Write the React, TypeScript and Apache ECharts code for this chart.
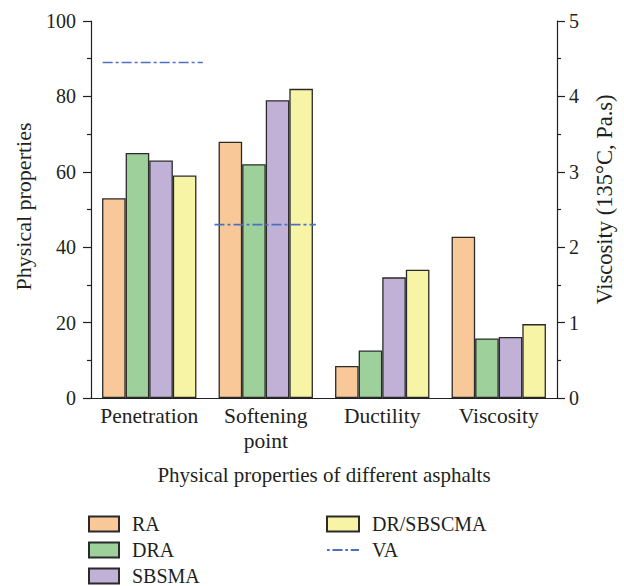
import React, { useEffect, useRef } from 'react';
import * as echarts from 'echarts';

// ---- data ----
const categories = ['Penetration', 'Softening\npoint', 'Ductility', 'Viscosity'];
const asphalts = ['RA', 'DRA', 'SBSMA', 'DR/SBSCMA'];
// physical properties (left axis) for penetration, softening point, ductility
const raValues = [53, 68, 8.5];
const draValues = [65, 62, 12.6];
const sbsmaValues = [63, 79, 32];
const drValues = [59, 82, 34];
// viscosity at 135°C (Pa.s, right axis): RA, DRA, SBSMA, DR/SBSCMA
const viscosityValues = [2.14, 0.79, 0.81, 0.98];
// VA reference segments (left axis level, category span start/end)
const vaLevels = [89, 46];
const vaStarts = [0.1, 1.06];
const vaEnds = [0.96, 1.93];
// axis ranges
const leftMax = 100;
const leftInterval = 20;
const rightMax = 5;
const rightInterval = 1;

const colors = ['#f9c898', '#9dd09b', '#c2b1d6', '#f7f4a6'];
const vaColor = '#4f6fbf';
const ink = '#231f20';
const font = '"Liberation Serif", "DejaVu Serif", serif';
const vaIcon =
  'path://M0,0h3v2h-3z M6,0h11v2h-11z M20,0h3v2h-3z M26,0h9v2h-9z';

export default function App() {
  const ref = useRef<HTMLDivElement>(null);
  useEffect(() => {
    document.body.style.margin = '0';
    if (!ref.current) return;
    const chart = echarts.init(ref.current, null, { renderer: 'svg' });
    const physical = [raValues, draValues, sbsmaValues, drValues];
    const barStyle = (i: number) => ({
      color: colors[i],
      borderColor: '#2a2a2a',
      borderWidth: 1.3,
    });
    const gridRect = { left: 91, right: 67, top: 21, bottom: 188 };
    const series: any[] = [];
    asphalts.forEach((name, i) => {
      series.push({
        type: 'bar',
        name,
        xAxisIndex: 0,
        yAxisIndex: 0,
        data: [...physical[i], null],
        itemStyle: barStyle(i),
        barGap: 0,
        barCategoryGap: '19%',
        emphasis: { disabled: true },
      });
    });
    asphalts.forEach((name, i) => {
      series.push({
        type: 'bar',
        name,
        xAxisIndex: 1,
        yAxisIndex: 1,
        data: [null, null, null, viscosityValues[i]],
        itemStyle: barStyle(i),
        barGap: 0,
        barCategoryGap: '19%',
        emphasis: { disabled: true },
      });
    });
    const vaData: any[] = [];
    vaLevels.forEach((lvl, k) => {
      if (k > 0) vaData.push(null);
      vaData.push([vaStarts[k], lvl]);
      vaData.push([vaEnds[k], lvl]);
    });
    series.push({
      type: 'line',
      name: 'VA',
      xAxisIndex: 2,
      yAxisIndex: 0,
      data: vaData,
      symbol: 'none',
      connectNulls: false,
      lineStyle: { color: vaColor, width: 1.6, type: [10, 3, 3, 3] },
      itemStyle: { color: vaColor },
      emphasis: { disabled: true },
    });

    const axisLine = { show: true, lineStyle: { color: ink, width: 1.2 } };
    const legendText = {
      fontFamily: font,
      fontSize: 20,
      color: ink,
      padding: [0, 0, 0, 8],
    };

    chart.setOption({
      animation: false,
      textStyle: { fontFamily: font },
      grid: [gridRect, gridRect],
      xAxis: [
        {
          type: 'category',
          gridIndex: 0,
          data: categories,
          axisLine,
          axisTick: { show: false },
          axisLabel: {
            color: ink,
            fontSize: 21.5,
            fontFamily: font,
            margin: 5,
            lineHeight: 25,
            interval: 0,
          },
          name: 'Physical properties of different asphalts',
          nameLocation: 'middle',
          nameGap: 66,
          nameTextStyle: { color: ink, fontSize: 21, fontFamily: font },
        },
        {
          type: 'category',
          gridIndex: 1,
          data: categories,
          show: false,
        },
        {
          type: 'value',
          gridIndex: 0,
          min: 0,
          max: categories.length,
          show: false,
        },
      ],
      yAxis: [
        {
          type: 'value',
          gridIndex: 0,
          min: 0,
          max: leftMax,
          interval: leftInterval,
          position: 'left',
          axisLine,
          axisTick: { show: true, length: 8, lineStyle: { color: ink, width: 1.2 } },
          minorTick: { show: true, splitNumber: 2, length: 4, lineStyle: { color: ink, width: 1.2 } },
          splitLine: { show: false },
          axisLabel: { color: ink, fontSize: 20, fontFamily: font, margin: 15 },
          name: 'Physical properties',
          nameLocation: 'middle',
          nameGap: 57,
          nameRotate: 90,
          nameTextStyle: { color: ink, fontSize: 22, fontFamily: font, padding: [0, 0, 0, 6] },
        },
        {
          type: 'value',
          gridIndex: 1,
          min: 0,
          max: rightMax,
          interval: rightInterval,
          position: 'right',
          axisLine,
          axisTick: { show: true, length: 8, lineStyle: { color: ink, width: 1.2 } },
          minorTick: { show: true, splitNumber: 2, length: 4, lineStyle: { color: ink, width: 1.2 } },
          splitLine: { show: false },
          axisLabel: { color: ink, fontSize: 20, fontFamily: font, margin: 12 },
          name: 'Viscosity (135°C, Pa.s)',
          nameLocation: 'middle',
          nameGap: 36,
          nameRotate: 90,
          nameTextStyle: { color: ink, fontSize: 22.5, fontFamily: font, padding: [0, 0, 0, 20] },
        },
      ],
      legend: [
        {
          orient: 'vertical',
          left: 88,
          top: 514,
          height: 120,
          padding: 0,
          itemWidth: 30,
          itemHeight: 15,
          itemGap: 6,
          icon: 'rect',
          data: ['RA', 'DRA', 'SBSMA'],
          textStyle: legendText,
          selectedMode: false,
        },
        {
          orient: 'vertical',
          left: 326,
          top: 514,
          height: 120,
          padding: 0,
          itemWidth: 32,
          itemHeight: 15,
          itemGap: 6,
          data: [
            { name: 'DR/SBSCMA', icon: 'rect' },
            { name: 'VA', icon: vaIcon, itemStyle: { color: vaColor, borderWidth: 0 } },
          ],
          textStyle: legendText,
          selectedMode: false,
        },
      ],
      series,
    });
    return () => chart.dispose();
  }, []);
  return <div ref={ref} style={{ width: 624, height: 586 }} />;
}
